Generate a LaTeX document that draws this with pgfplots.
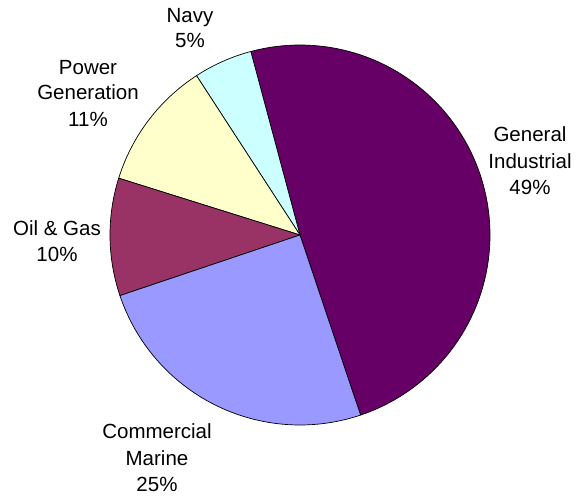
\documentclass[border=0pt]{standalone}
\usepackage{pgfplots}
\pgfplotsset{compat=1.18}
\usepackage{fontspec}
\setmainfont{Liberation Sans}
\definecolor{cgi}{HTML}{660066}
\definecolor{ccm}{HTML}{9999FF}
\definecolor{cog}{HTML}{993366}
\definecolor{cpg}{HTML}{FFFFCC}
\definecolor{cnv}{HTML}{CCFFFF}
% slice: #1 = cumulative percent before, #2 = percent, #3 = colour
\newcommand{\slice}[3]{%
  \addplot[draw=black, line width=0.7pt, line join=round, fill=#3, domain={-71.4+3.6*#1}:{-71.4+3.6*(#1+#2)}, samples=90, variable=\t]
    ({300+190*cos(t)},{265+190*sin(t)}) -- (axis cs:300,265) -- cycle;
}
\tikzset{lbl/.style={anchor=base, inner sep=0pt, font=\fontsize{20.5}{24}\selectfont}}
\begin{document}
\begin{tikzpicture}
\path (0,0) rectangle (585pt,500pt);
\begin{axis}[hide axis, scale only axis, width=585pt, height=500pt,
  xmin=0, xmax=585, ymin=0, ymax=500, clip=false, anchor=south west, at={(0,0)}]
\slice{0}{49}{cgi}   % General Industrial
\slice{49}{5}{cnv}   % Navy
\slice{54}{11}{cpg}  % Power Generation
\slice{65}{10}{cog}  % Oil & Gas
\slice{75}{25}{ccm}  % Commercial Marine
\node[lbl] at (axis cs:190,477.3) {Navy};
\node[lbl] at (axis cs:190,452) {5\%};
\node[lbl] at (axis cs:88,425) {Power};
\node[lbl] at (axis cs:88,400) {Generation};
\node[lbl] at (axis cs:88,373) {11\%};
\node[lbl] at (axis cs:530,358.3) {General};
\node[lbl] at (axis cs:530,331.7) {Industrial};
\node[lbl] at (axis cs:530,305) {49\%};
\node[lbl] at (axis cs:57,264) {Oil \& Gas};
\node[lbl] at (axis cs:57,238) {10\%};
\node[lbl] at (axis cs:157,62) {Commercial};
\node[lbl] at (axis cs:157,35) {Marine};
\node[lbl] at (axis cs:157,8.3) {25\%};
\end{axis}
\end{tikzpicture}
\end{document}
